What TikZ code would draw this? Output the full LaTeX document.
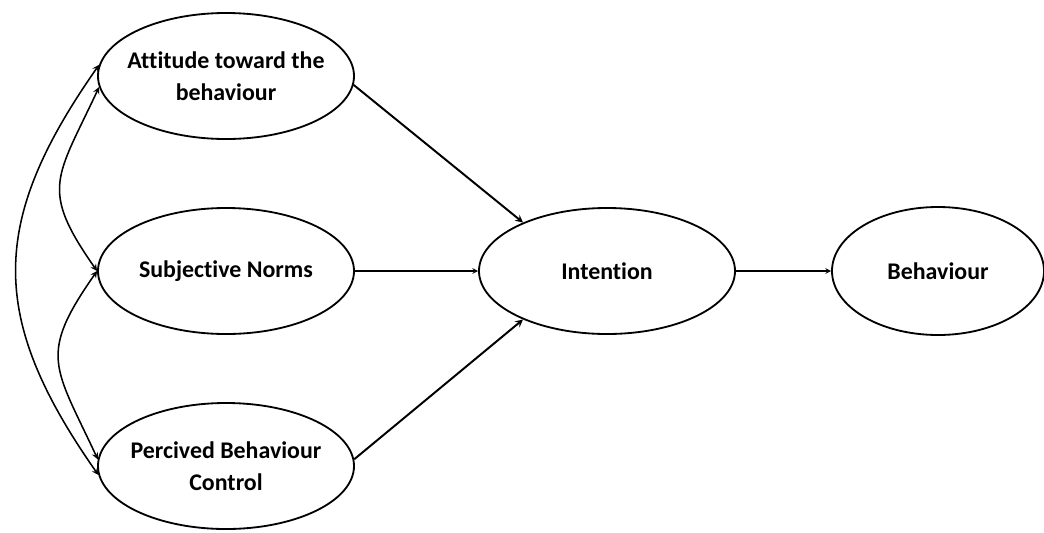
\documentclass[tikz,border=0pt]{standalone}
\usepackage{fontspec}
\setmainfont[Ligatures=NoCommon]{Carlito}
\usepackage{tikz}
\usetikzlibrary{shapes.geometric, arrows}
\tikzstyle{construct} = [ellipse, minimum width=6.4cm, minimum height=3.15cm, inner xsep=-10pt, align=center, draw=black, line width=1.3pt, font=\bfseries\fontsize{17}{23}\selectfont]
\tikzstyle{outcome} = [construct, minimum width=5.3cm, minimum height=3.2cm]
\tikzstyle{effect} = [line width=1.4pt,->,>=stealth]
\tikzstyle{thinEffect} = [line width=0.8pt,->,>=stealth]
\tikzstyle{correl} = [line width=1.1pt,<->,>=stealth]

\begin{document}
\begin{tikzpicture}[node distance=4.875cm]
\useasboundingbox (-5.65,1.9) rectangle (20.45,-11.4);

\node (attitude) [construct] {Attitude toward the\\behaviour};
\node (subjNorms) [construct, below of=attitude] {Subjective Norms};
\node (percControl) [construct, below of=subjNorms] {Percived Behaviour\\Control};
\node (intention) [construct, xshift=4.65cm, right of=subjNorms] {Intention};
\node (behaviour) [outcome, xshift=3.4cm, right of=intention] {Behaviour};

\draw [effect] (attitude.356) -- (intention.150);
\draw [thinEffect] (subjNorms) -- (intention);
\draw [effect] (percControl.3) -- (intention.210);
\draw [thinEffect] (intention) -- (behaviour);
\draw [correl] (attitude.175) to [out=235, in=125, looseness=1.2] (percControl.184);
\draw [correl] (attitude.185) to [out=245, in=125, looseness=1.4] (subjNorms.west);
\draw [correl] (subjNorms.west) to [out=235, in=115, looseness=1.4] (percControl.177);

\end{tikzpicture}
\end{document}
